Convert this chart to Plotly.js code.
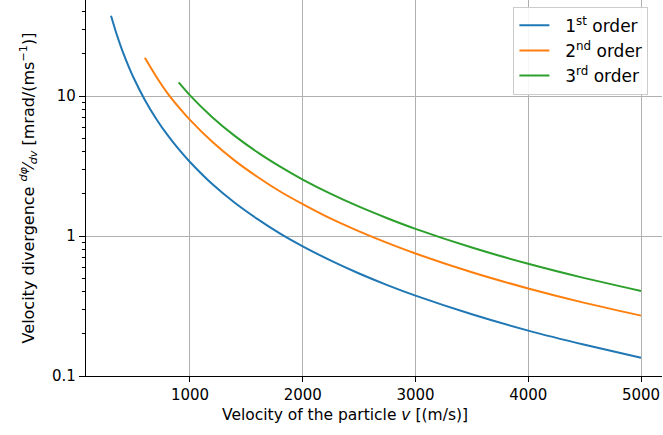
<!DOCTYPE html>
<html>
<head>
<meta charset="utf-8">
<script src="https://cdn.plot.ly/plotly-3.0.1.min.js"></script>
<style>html,body{margin:0;padding:0;background:#fff}#chart{width:663px;height:435px}</style>
</head>
<body>
<div id="chart"></div>
<script>
// Velocity (m/s) and divergence values
const v1 = [300, 350, 400, 450, 500, 600, 700, 800, 900, 1000, 1200, 1400, 1600, 1800, 2000, 2250, 2500, 2750, 3000, 3500, 4000, 4500, 5000];
const d1 = [37.5, 27.6, 21.1, 16.7, 13.5, 9.38, 6.89, 5.27, 4.17, 3.38, 2.34, 1.72, 1.32, 1.04, 0.844, 0.667, 0.540, 0.446, 0.375, 0.276, 0.211, 0.167, 0.135];
const v2 = [600, 700, 800, 900, 1000, 1200, 1400, 1600, 1800, 2000, 2250, 2500, 2750, 3000, 3500, 4000, 4500, 5000];
const d2 = [18.75, 13.8, 10.5, 8.33, 6.75, 4.69, 3.44, 2.64, 2.08, 1.69, 1.33, 1.08, 0.893, 0.75, 0.551, 0.422, 0.333, 0.27];
const v3 = [900, 1000, 1200, 1400, 1600, 1800, 2000, 2250, 2500, 2750, 3000, 3500, 4000, 4500, 5000];
const d3 = [12.5, 10.1, 7.03, 5.17, 3.96, 3.13, 2.53, 2.00, 1.62, 1.34, 1.125, 0.827, 0.633, 0.5, 0.405];
const names = ['1<sup>st</sup> order', '2<sup>nd</sup> order', '3<sup>rd</sup> order'];
const xTicks = [1000, 2000, 3000, 4000, 5000];
const yTicks = [0.1, 1, 10];
const yTickText = ['0.1', '1', '10'];
const yMinorTicks = [0.2, 0.3, 0.4, 0.5, 0.6, 0.7, 0.8, 0.9, 2, 3, 4, 5, 6, 7, 8, 9, 20, 30, 40];

const colors = ['#1f77b4', '#ff7f0e', '#2ca02c'];
const series = [[v1, d1], [v2, d2], [v3, d3]];
const pad = '\u00a0\u00a0';
const traces = series.map((s, i) => ({
  x: s[0], y: s[1], name: pad + names[i], mode: 'lines', type: 'scatter',
  line: {color: colors[i], width: 2, shape: 'spline', smoothing: 0.6}
}));
// invisible carrier trace so the minor-tick overlay axis is drawn
traces.push({x: v1, y: d1, yaxis: 'y2', mode: 'lines', opacity: 0, showlegend: false, hoverinfo: 'skip', line: {width: 0}});

const yRange = [-1, 1.686];
const layout = {
  width: 663, height: 435,
  margin: {l: 86, r: 1, t: 0, b: 59},
  paper_bgcolor: '#fff', plot_bgcolor: '#fff',
  font: {family: 'DejaVu Sans, sans-serif', size: 15, color: '#000'},
  showlegend: true,
  legend: {
    x: 0.742, y: 0.982, xanchor: 'left', yanchor: 'top',
    bgcolor: 'rgba(255,255,255,0.9)', bordercolor: '#cccccc', borderwidth: 1,
    font: {size: 17}, tracegroupgap: 0, itemwidth: 30
  },
  xaxis: {
    range: [78, 5186],
    tickvals: xTicks, ticktext: xTicks.map(String),
    ticks: 'outside', ticklen: 5, tickcolor: '#000', tickwidth: 1,
    showline: true, linecolor: '#000', linewidth: 1.2,
    showgrid: true, gridcolor: '#b0b0b0', gridwidth: 1,
    zeroline: false
  },
  yaxis: {
    type: 'log',
    range: yRange,
    tickvals: yTicks, ticktext: yTickText,
    ticks: 'outside', ticklen: 6, tickcolor: '#000', tickwidth: 1,
    showline: true, linecolor: '#000', linewidth: 1.2,
    showgrid: true, gridcolor: '#b0b0b0', gridwidth: 1,
    zeroline: false,
    title: {text: 'Velocity divergence <sup><i>dφ</i></sup>⁄<sub><i>dv</i></sub> [mrad/(ms<sup>−1</sup>)]', font: {size: 16}, standoff: 13}
  },
  yaxis2: {
    type: 'log', overlaying: 'y', side: 'left',
    range: yRange,
    tickmode: 'array', tickvals: yMinorTicks, ticktext: yMinorTicks.map(() => ''),
    ticks: 'outside', ticklen: 3, tickcolor: '#000', tickwidth: 1,
    showticklabels: false, showgrid: false, showline: false, zeroline: false
  },
  annotations: [{
    text: 'Velocity of the particle <i>v</i> [(m/s)]',
    xref: 'paper', yref: 'paper', x: 0.4497, y: -0.1037,
    xanchor: 'center', yanchor: 'middle', showarrow: false,
    font: {size: 15.5}
  }]
};

Plotly.newPlot('chart', traces, layout, {displayModeBar: false, staticPlot: true});
</script>
</body>
</html>
